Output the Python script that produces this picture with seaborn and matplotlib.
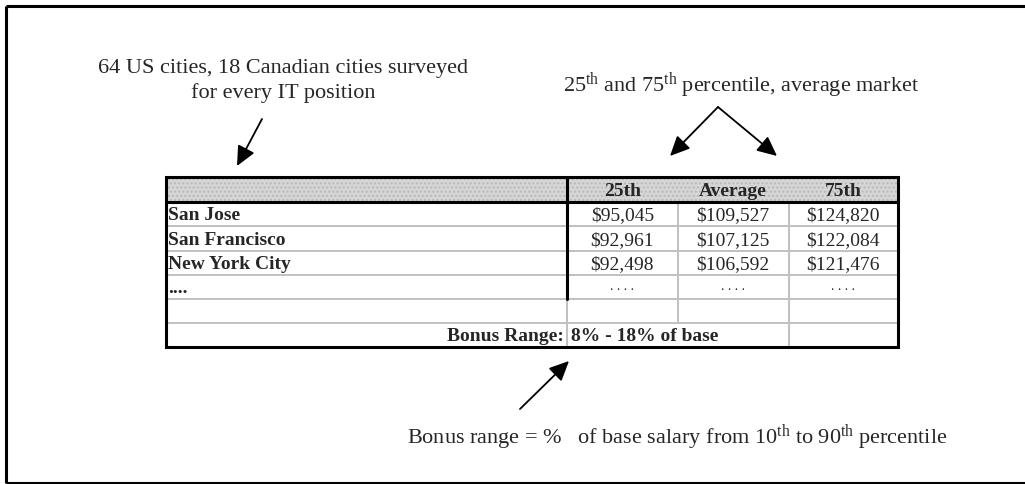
import matplotlib
matplotlib.use("Agg")
import matplotlib.pyplot as plt
import seaborn as sns
from matplotlib.patches import Rectangle, FancyArrowPatch

sns.set_theme(style="white")
plt.rcParams['font.family'] = ['Liberation Serif', 'DejaVu Serif']
plt.rcParams['mathtext.fontset'] = 'custom'
plt.rcParams['mathtext.rm'] = 'Liberation Serif'
plt.rcParams['mathtext.it'] = 'Liberation Serif:italic'
plt.rcParams['mathtext.bf'] = 'Liberation Serif:bold'

# ---- data ----
cities = ["San Jose", "San Francisco", "New York City", "...."]
headers = ["25th", "Average", "75th"]
p25 = [95045, 92961, 92498]
avg = [109527, 107125, 106592]
p75 = [124820, 122084, 121476]
bonus_low, bonus_high = 8, 18
note_left = ["64 US cities, 18 Canadian cities surveyed", "for every IT position"]
note_right = r"25$^{\rm th}$ and 75$^{\rm th}$ percentile, average market"
note_bottom = r"Bonus range = %   of base salary from 10$^{\rm th}$ to 90$^{\rm th}$ percentile"

# ---- layout ----
W, H = 1025, 485
fig = plt.figure(figsize=(W / 100, H / 100), dpi=100)
ax = fig.add_axes([0, 0, 1, 1])
ax.set_xlim(0, W)
ax.set_ylim(H, 0)
ax.axis("off")

BLK = 2.2
GRY = 1.4
gray = "#c0c0c0"

# outer frame (top, left, bottom)
ax.plot([6, W + 5], [7, 7], color="black", lw=BLK, solid_capstyle="butt")
ax.plot([6, 6], [7, 484], color="black", lw=BLK, solid_capstyle="butt")
ax.plot([6, W + 5], [484, 484], color="black", lw=BLK, solid_capstyle="butt")

# table geometry
xl, xd, x1, x2, xr = 166, 567, 677.5, 788.5, 898
row_y = [178, 203, 227, 252, 276, 300, 324, 348]

# header shading
ax.add_patch(Rectangle((xl, row_y[0]), xr - xl, row_y[1] - row_y[0],
                       facecolor="#d6d6d6", edgecolor="#b8b8b8", hatch="....",
                       lw=0, zorder=1))

# gray inner row lines
for y in row_y[2:7]:
    ax.plot([xl, xr], [y, y], color=gray, lw=GRY, zorder=2)
# gray column lines
ax.plot([x1, x1], [row_y[1], row_y[6]], color=gray, lw=GRY, zorder=2)
ax.plot([x2, x2], [row_y[1], row_y[7]], color=gray, lw=GRY, zorder=2)
ax.plot([xd, xd], [row_y[5], row_y[7]], color=gray, lw=GRY, zorder=2)

# black lines
ax.plot([xl, xr], [row_y[1], row_y[1]], color="black", lw=BLK, zorder=3)
ax.plot([xd, xd], [row_y[0], row_y[5]], color="black", lw=BLK, zorder=3)
ax.add_patch(Rectangle((xl, row_y[0]), xr - xl, row_y[7] - row_y[0],
                       fill=False, edgecolor="black", lw=BLK, zorder=4))

cx = [(xd + x1) / 2, (x1 + x2) / 2, (x2 + xr) / 2]
fs = 14
# header text
for c, h in zip(cx, headers):
    ax.text(c, (row_y[0] + row_y[1]) / 2 + 1, h, ha="center", va="center",
            fontsize=fs, fontweight="bold", zorder=5)

# rows
for i, city in enumerate(cities):
    yc = (row_y[i + 1] + row_y[i + 2]) / 2 + 1
    ax.text(xl + 2, yc, city, ha="left", va="center", fontsize=fs,
            fontweight="bold", zorder=5)
    if i < len(p25):
        vals = [p25[i], avg[i], p75[i]]
        for c, v in zip(cx, vals):
            ax.text(c, yc, f"${v:,}", ha="center", va="center", fontsize=fs,
                    zorder=5, parse_math=False)
    else:
        for c in cx:
            ax.text(c, yc - 2, ". . . .", ha="center", va="center", fontsize=fs - 4,
                    zorder=5)

yb = (row_y[6] + row_y[7]) / 2 + 1
ax.text(xd - 3, yb, "Bonus Range:", ha="right", va="center", fontsize=fs,
        fontweight="bold", zorder=5)
ax.text(xd + 4, yb, f"{bonus_low}% - {bonus_high}% of base", ha="left",
        va="center", fontsize=fs, fontweight="bold", zorder=5, parse_math=False)

# annotations
ax.text(283.5, 68, note_left[0], ha="center", va="center", fontsize=16)
ax.text(283.5, 93, note_left[1], ha="center", va="center", fontsize=16)
ax.text(741, 86, note_right, ha="center", va="center", fontsize=16)
ax.text(677.5, 438, note_bottom, ha="center", va="center", fontsize=16)

def arrow(p0, p1):
    ax.add_patch(FancyArrowPatch(p0, p1, arrowstyle="-|>,head_length=0.6,head_width=0.28",
                                 mutation_scale=20, color="black", lw=1.3,
                                 shrinkA=0, shrinkB=0, zorder=6))

arrow((262, 120), (237, 167))
arrow((718, 108), (670, 157))
arrow((718, 108), (777, 157))
arrow((520, 410), (569, 362))

fig.savefig("out.png", dpi=100)
